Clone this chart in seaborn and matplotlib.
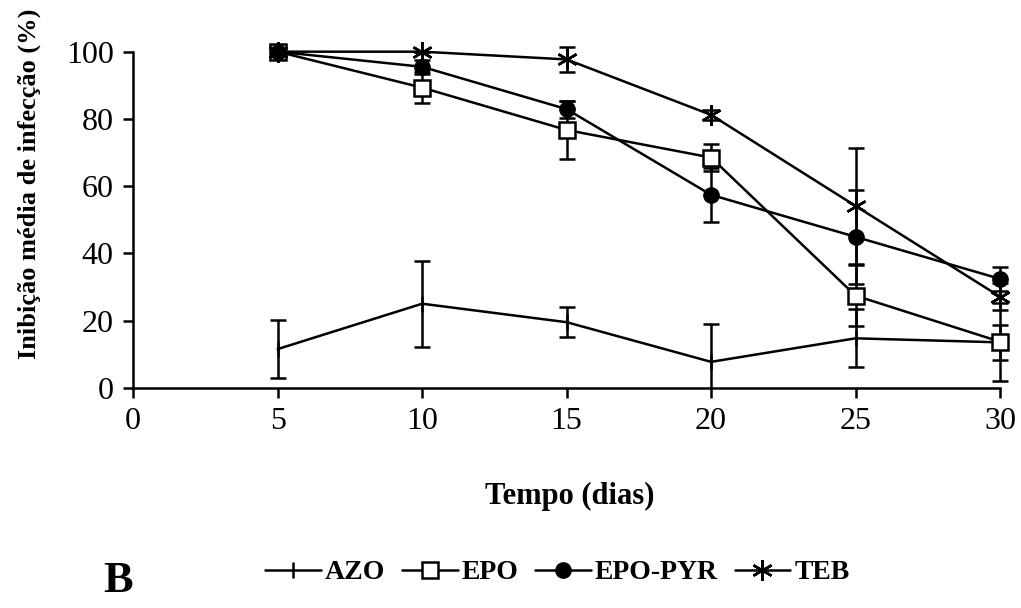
import matplotlib
matplotlib.use("Agg")
import matplotlib.pyplot as plt
import seaborn as sns
import pandas as pd
from matplotlib.lines import Line2D

# Days after inoculation
days = [5, 10, 15, 20, 25, 30]

# Mean infection inhibition (%) and error per treatment
azo = [11.5, 25.0, 19.5, 7.7, 14.7, 13.5]
azo_err = [8.6, 12.8, 4.4, 11.3, 8.6, 5.2]
epo = [100.0, 89.3, 76.7, 68.5, 27.4, 13.7]
epo_err = [0.0, 4.7, 8.7, 4.0, 9.0, 11.6]
epo_pyr = [100.0, 95.5, 82.9, 57.4, 44.9, 32.4]
epo_pyr_err = [0.0, 2.0, 2.5, 8.0, 14.0, 3.6]
teb = [100.0, 100.0, 97.7, 81.2, 54.1, 27.1]
teb_err = [0.0, 0.0, 3.6, 1.5, 17.3, 4.0]

treatments = ["AZO", "EPO", "EPO-PYR", "TEB"]
means = {"AZO": azo, "EPO": epo, "EPO-PYR": epo_pyr, "TEB": teb}
errors = {"AZO": azo_err, "EPO": epo_err, "EPO-PYR": epo_pyr_err, "TEB": teb_err}

x_ticks = [0, 5, 10, 15, 20, 25, 30]
y_ticks = [0, 20, 40, 60, 80, 100]

df = pd.concat(
    [pd.DataFrame({"dias": days, "inib": means[t], "err": errors[t], "trat": t})
     for t in treatments],
    ignore_index=True,
)

sns.set_theme(style="ticks")
plt.rcParams["font.family"] = ["Liberation Serif", "DejaVu Serif"]
plt.rcParams["text.color"] = "black"

LW = 1.8
styles = {
    "AZO": dict(marker="|", markersize=12, markerfacecolor="black", markeredgewidth=LW),
    "EPO": dict(marker="s", markersize=11.5, markerfacecolor="white", markeredgewidth=LW),
    "EPO-PYR": dict(marker="o", markersize=11, markerfacecolor="black", markeredgewidth=1.0),
    "TEB": dict(marker=(6, 2, 0), markersize=15, markerfacecolor="black", markeredgewidth=LW),
}

fig = plt.figure(figsize=(10.21, 6.08), dpi=100)
ax = fig.add_axes([0.1305, 0.3623, 0.8489, 0.5527])

for t in treatments:
    sub = df[df["trat"] == t]
    eb = ax.errorbar(sub["dias"], sub["inib"], yerr=sub["err"], fmt="none",
                     ecolor="black", elinewidth=LW, capsize=5.5, capthick=LW,
                     zorder=2)
    # Bars stop at the x axis; caps below zero are hidden
    for cap in eb.lines[1]:
        ys = cap.get_ydata()
        cap.set_ydata([y if y >= 0 else float("nan") for y in ys])
        cap.set_clip_on(False)
    for coll in eb.lines[2]:
        segs = coll.get_segments()
        coll.set_segments([[(p[0], max(p[1], 0.0)) for p in s] for s in segs])
        coll.set_clip_on(False)
    sns.lineplot(data=sub, x="dias", y="inib", ax=ax, color="black",
                 linewidth=LW, markeredgecolor="black", legend=False,
                 errorbar=None, zorder=3, clip_on=False, **styles[t])

ax.set_xlim(0, 30)
ax.set_ylim(0, 100)
ax.set_xticks(x_ticks)
ax.set_yticks(y_ticks)
ax.tick_params(axis="both", direction="out", length=7, width=LW,
               labelsize=23, colors="black", pad=7)
for s in ["top", "right"]:
    ax.spines[s].set_visible(False)
for s in ["left", "bottom"]:
    ax.spines[s].set_linewidth(LW)
    ax.spines[s].set_color("black")

ax.set_xlabel("Tempo (dias)", fontsize=22, fontweight="bold", color="black")
ax.set_ylabel("Inibição média de infecção (%)", fontsize=19, fontweight="bold",
              color="black")
ax.xaxis.set_label_coords(0.504, -0.28)
ax.yaxis.set_label_coords(-0.106, 0.607)

handles = [
    Line2D([], [], color="black", linewidth=LW, markeredgecolor="black", **styles[t])
    for t in treatments
]
leg = fig.legend(handles, treatments, loc="center", bbox_to_anchor=(0.546, 0.058),
                 ncol=4, frameon=False, handlelength=2.0, handletextpad=0.15,
                 columnspacing=0.6, prop={"weight": "bold", "size": 20,
                                         "family": "Liberation Serif"})
for txt in leg.get_texts():
    txt.set_color("black")

fig.text(0.116, 0.012, "B", fontsize=32, fontweight="bold", ha="center",
         va="bottom", color="black")

fig.savefig("out.png", dpi=100, facecolor="white")
